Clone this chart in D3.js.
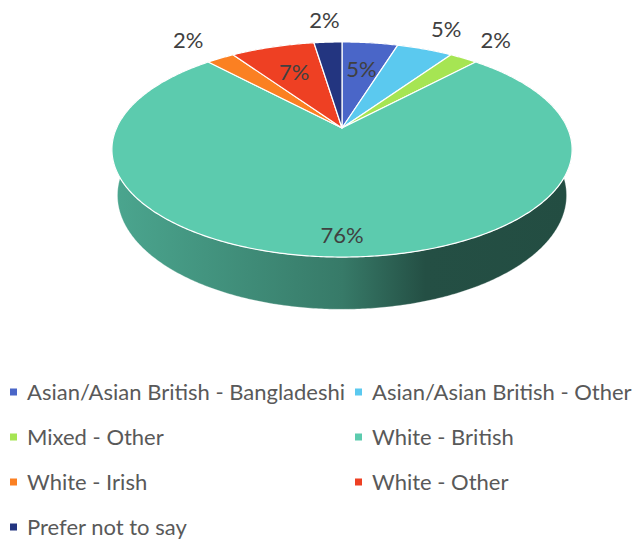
<!DOCTYPE html>
<html><head><meta charset="utf-8">
<script src="https://cdn.jsdelivr.net/npm/d3@7"></script>
<style>body{margin:0;background:#fff}svg{display:block}</style>
</head><body>
<svg id="c" width="635" height="541"></svg>
<script>
const categories = ["Asian/Asian British - Bangladeshi","Asian/Asian British - Other","Mixed - Other","White - British","White - Irish","White - Other","Prefer not to say"];
const counts = [2, 2, 1, 32, 1, 3, 1];
const colors = ["#4a66c8","#5bc9ef","#a6e553","#5ccbae","#fb8022","#ee4023","#233580"];
const labelPlacement = ["inside","outside","outside","inside","outside","inside","outside"];

const svg = d3.select("#c");
const FONT = "Lato, 'Open Sans', sans-serif";

// perspective projection of a tilted disc
const cx = 342, cy = 128, F = 1002, tilt = 27.26 * Math.PI / 180;
const sE = Math.sin(tilt), cE = Math.cos(tilt), D = 5 * cE;
const thick = 0.23;
function proj(theta, r, h) {
  const u = r * Math.sin(theta), w = r * Math.cos(theta);
  const yc = w * sE + h * cE, zc = D + w * cE - h * sE;
  return [cx + F * u / zc, cy - F * yc / zc];
}
function arcPts(a0, a1, r, h) {
  const n = Math.max(2, Math.ceil((a1 - a0) / 0.01));
  return d3.range(n + 1).map(i => proj(a0 + (a1 - a0) * i / n, r, h));
}

const total = d3.sum(counts);
const pie = d3.pie().sort(null).value(d => d)(counts);
const line = d3.line();
const pct = d3.format(".0%");

const defs = svg.append("defs");
const xScale = d3.scaleLinear().domain([0, 1]).range([112, 573]);

// side walls (drawn first, top faces cover hidden parts)
const sides = svg.append("g");
pie.forEach((p, i) => {
  const gid = "g" + i;
  const base = d3.rgb(colors[i]);
  const g = defs.append("linearGradient").attr("id", gid)
    .attr("gradientUnits", "userSpaceOnUse")
    .attr("x1", xScale(0)).attr("x2", xScale(1)).attr("y1", 0).attr("y2", 0);
  [[0, 0.82], [0.5, 0.6], [0.68, 0.39], [1, 0.38]].forEach(([o, k]) => {
    g.append("stop").attr("offset", o)
      .attr("stop-color", d3.rgb(base.r * k, base.g * k, base.b * k).formatHex());
  });
  const top = arcPts(p.startAngle, p.endAngle, 1, 0);
  const bot = arcPts(p.startAngle, p.endAngle, 1, -thick).reverse();
  sides.append("path")
    .attr("d", line(top.concat(bot)) + "Z")
    .attr("fill", `url(#${gid})`)
    .attr("stroke", "rgba(255,255,255,0.5)").attr("stroke-width", 0.6);
});

// top faces
const tops = svg.append("g");
pie.forEach((p, i) => {
  const pts = [proj(0, 0, 0)].concat(arcPts(p.startAngle, p.endAngle, 1, 0));
  tops.append("path")
    .attr("d", line(pts) + "Z")
    .attr("fill", colors[i])
    .attr("stroke", "#fff").attr("stroke-width", 1.2).attr("stroke-linejoin", "round");
});

// data labels
const labels = svg.append("g");
pie.forEach((p, i) => {
  const mid = (p.startAngle + p.endAngle) / 2;
  let r;
  if (labelPlacement[i] === "outside") r = 1.32;
  else r = (p.endAngle - p.startAngle) > Math.PI ? 0.86 : 0.65;
  const [x, y] = proj(mid, r, 0);
  labels.append("text")
    .attr("x", x).attr("y", y).attr("dy", "0.36em")
    .attr("text-anchor", "middle")
    .attr("font-family", FONT).attr("font-size", 22)
    .attr("fill", "#404040")
    .text(pct(counts[i] / total));
});

// legend
const legend = svg.append("g");
const colX = [10, 355], rowY0 = 392, rowH = 45;
categories.forEach((c, i) => {
  const x = colX[i % 2], y = rowY0 + Math.floor(i / 2) * rowH;
  legend.append("rect").attr("x", x).attr("y", y - 3.5).attr("width", 7).attr("height", 7).attr("fill", colors[i]);
  legend.append("text").attr("x", x + 17).attr("y", y).attr("dy", "0.36em")
    .attr("font-family", FONT).attr("font-size", 22).attr("fill", "#595959")
    .text(c);
});
</script>
</body></html>
